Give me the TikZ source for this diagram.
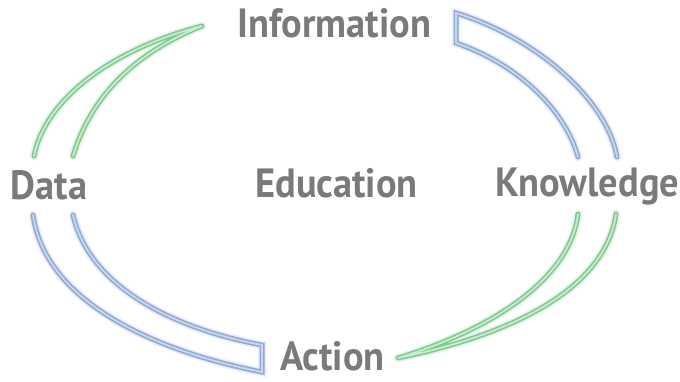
\documentclass[tikz,border=0pt]{standalone}
\usepackage{fontspec}
\newfontfamily\lblfont[FakeStretch=0.94]{PT Sans}
\definecolor{txtgray}{RGB}{122,122,122}
\definecolor{bluedge}{RGB}{145,170,212}
\definecolor{bluein}{RGB}{200,214,238}
\definecolor{grnedge}{RGB}{128,202,145}
\definecolor{grnin}{RGB}{200,234,206}
\tikzset{
  lbl/.style={font=\lblfont\bfseries\fontsize{41}{41}\selectfont, text=txtgray, inner sep=0pt, anchor=base},
  glowb/.style={draw=bluedge, line width=8.5bp, opacity=0.2, line cap=round, line join=miter},
  edgeb/.style={draw=bluedge, line width=5bp, line cap=round, line join=miter},
  innb/.style={draw=bluein, line width=1.8bp, line cap=round, line join=miter},
  glowg/.style={draw=grnedge, line width=8.5bp, opacity=0.2, line cap=round, line join=round},
  edgeg/.style={draw=grnedge, line width=5bp, line cap=round, line join=round},
  inng/.style={draw=grnin, line width=1.8bp, line cap=round, line join=round}
}
\begin{document}
\begin{tikzpicture}[x=1bp,y=-1bp]
\useasboundingbox (0,0) rectangle (680,381);
% labels
\node[lbl] (info) at (334.5,37) {Information};
\node[lbl] (data) at (49,199) {Data};
\node[lbl] (edu) at (336.5,197) {Education};
\node[lbl] (know) at (587.5,196) {Knowledge};
\node[lbl] (act) at (332.5,370.5) {Action};
% key points
\coordinate (gla) at (34,156);
\coordinate (glb) at (73,156);
\coordinate (glt) at (202,26);
\coordinate (bta) at (456,13);
\coordinate (btb) at (456,43);
\coordinate (btc) at (617,157);
\coordinate (btd) at (578,157);
\coordinate (bba) at (33,215);
\coordinate (bbb) at (73,215);
\coordinate (bbc) at (262,372);
\coordinate (bbd) at (262,345);
\coordinate (gra) at (616,214);
\coordinate (grb) at (578,214);
\coordinate (grt) at (398,358);
% green left
\foreach \s in {glowg,edgeg,inng}{
  \draw[\s] (gla) .. controls (45,100) and (110,50) .. (glt)
            .. controls (130,55) and (90,100) .. (glb);
}
% blue top right
\foreach \s in {glowb,edgeb,innb}{
  \draw[\s] (btc) .. controls (607,100) and (537,38) .. (bta)
            -- (btb) .. controls (520,65) and (566,112) .. (btd);
}
% blue bottom left
\foreach \s in {glowb,edgeb,innb}{
  \draw[\s] (bba) .. controls (45,300) and (150,350) .. (bbc)
            -- (bbd) .. controls (180,330) and (90,290) .. (bbb);
}
% green bottom right
\foreach \s in {glowg,edgeg,inng}{
  \draw[\s] (gra) .. controls (605,290) and (510,335) .. (grt)
            .. controls (490,330) and (570,280) .. (grb);
}
\end{tikzpicture}
\end{document}
